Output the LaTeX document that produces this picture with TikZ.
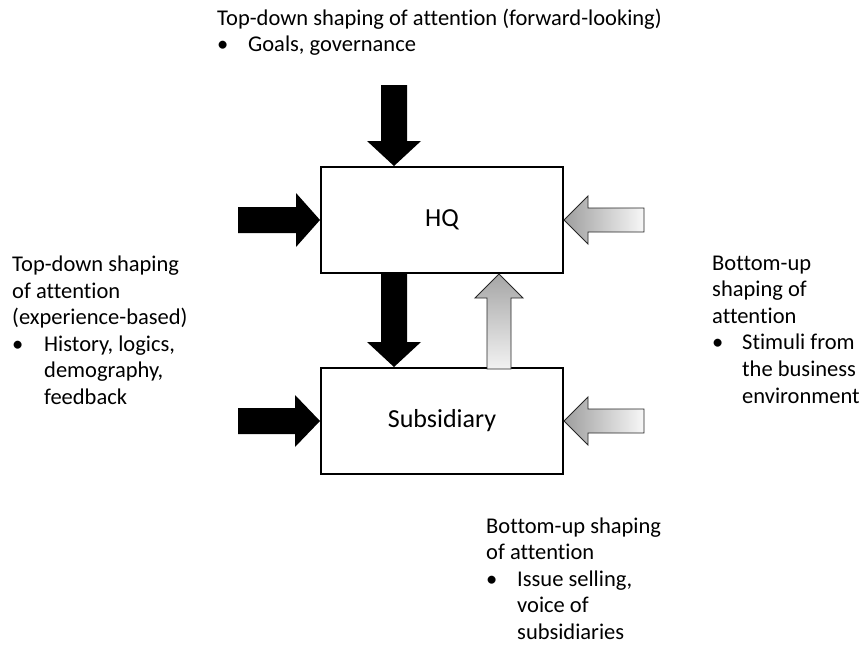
\documentclass[tikz,border=0pt]{standalone}
\usepackage{fontspec}
\setmainfont{Carlito}[Ligatures=CommonOff]
\usetikzlibrary{calc}
\tikzset{
  box/.style={draw, line width=2pt, minimum width=242pt, minimum height=106pt, inner sep=0pt, font=\fontsize{26}{30}\selectfont},
  lbl/.style={anchor=base west, inner sep=0pt, font=\fontsize{22.5}{26.6}\selectfont},
  darrow/.style={fill=black},
  garrow/.style={draw=black!85, line width=0.9pt},
  gleft/.style={garrow, left color=black!38, right color=black!3},
  gup/.style={garrow, top color=black!35, bottom color=black!5},
}
\newcommand{\barrow}[7]{\path[#1, shift={(#2)}, rotate=#3] (0,0) -- (-#5,#6) -- (-#5,#7) -- (-#4,#7) -- (-#4,-#7) -- (-#5,-#7) -- (-#5,-#6) -- cycle;}
\begin{document}
\begin{tikzpicture}[x=1pt,y=-1pt]
\useasboundingbox (0,0) rectangle (860,645);
\node[box] (hq) at (442,220) {\raisebox{-3pt}{HQ}};
\node[box] (sub) at (442,421) {\raisebox{-3pt}{Subsidiary}};
% black arrows
\barrow{darrow}{hq.west}{0}{82}{24}{27}{13}
\barrow{darrow}{$(hq.north)+(-48,0)$}{-90}{81}{25}{27}{13}
\barrow{darrow}{$(sub.north)+(-48,0)$}{-90}{95}{25}{27}{13}
\barrow{darrow}{sub.west}{0}{82}{25}{26}{13}
% grey arrows
\barrow{gup}{$(hq.south)+(57,0)$}{90}{95}{24}{24}{12}
\barrow{gleft}{hq.east}{180}{80}{24}{24}{12}
\barrow{gleft}{sub.east}{180}{80}{24}{24}{12}
% labels
\node[lbl] (toptext) at (217,25) {\begin{tabular}[t]{@{}p{31pt}@{}l@{}}\multicolumn{2}{@{}l@{}}{Top-down shaping of attention (forward-looking)}\\ •& Goals, governance\end{tabular}};
\node[lbl] (lefttext) at (12,271.5) {\begin{tabular}[t]{@{}p{32pt}@{}l@{}}\multicolumn{2}{@{}l@{}}{Top-down shaping}\\ \multicolumn{2}{@{}l@{}}{of attention}\\ \multicolumn{2}{@{}l@{}}{(experience-based)}\\ •& History, logics,\\ & demography,\\ & feedback\end{tabular}};
\node[lbl] (righttext) at (712,270) {\begin{tabular}[t]{@{}p{30pt}@{}l@{}}\multicolumn{2}{@{}l@{}}{Bottom-up}\\ \multicolumn{2}{@{}l@{}}{shaping of}\\ \multicolumn{2}{@{}l@{}}{attention}\\ •& Stimuli from\\ & the business\\ & environment\end{tabular}};
\node[lbl] (bottomtext) at (486,533) {\begin{tabular}[t]{@{}p{31pt}@{}l@{}}\multicolumn{2}{@{}l@{}}{Bottom-up shaping}\\ \multicolumn{2}{@{}l@{}}{of attention}\\ •& Issue selling,\\ & voice of\\ & subsidiaries\end{tabular}};
\end{tikzpicture}
\end{document}
